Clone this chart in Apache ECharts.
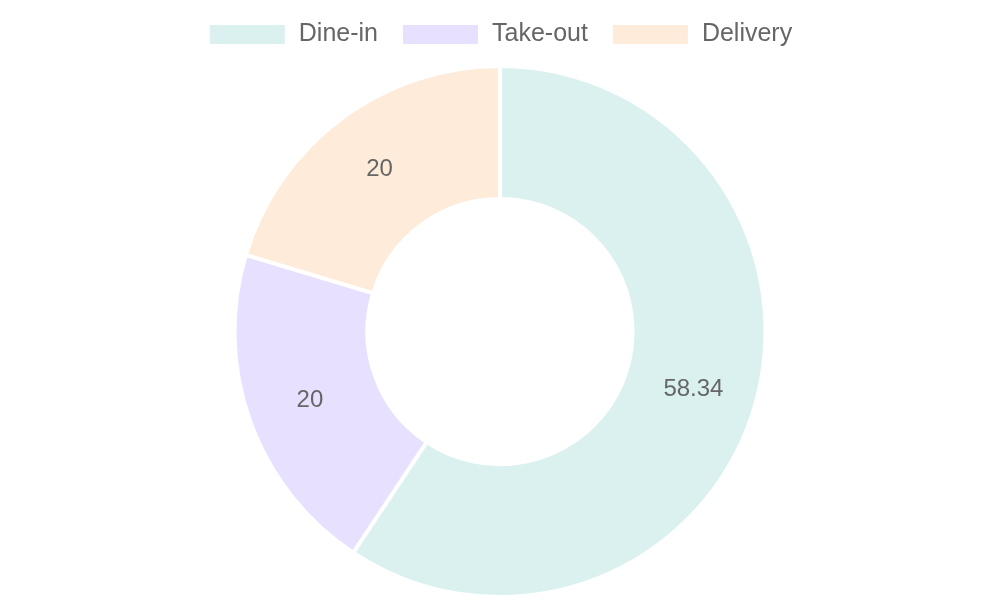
<!DOCTYPE html>
<html>
<head>
<meta charset="utf-8">
<script src="https://cdn.jsdelivr.net/npm/echarts@6/dist/echarts.min.js"></script>
<style>
  html, body { margin: 0; padding: 0; background: #fff; }
  #chart { width: 1000px; height: 600px; }
</style>
</head>
<body>
<div id="chart"></div>
<script>
const categories = ["Dine-in", "Take-out", "Delivery"];
const values = [58.34, 20, 20];
const colors = ["#daf1f0", "#e8e0ff", "#ffebd9"];

const myChart = echarts.init(document.getElementById("chart"));

const option = {
  color: colors,
  textStyle: { fontFamily: "Liberation Sans, Arial, sans-serif" },
  legend: {
    data: categories,
    top: 17,
    left: "center",
    icon: "rect",
    itemWidth: 77,
    itemHeight: 21,
    itemGap: 23,
    textStyle: { fontSize: 25, color: "#666", padding: [0, 0, 0, 8] },
  },
  series: [
    {
      type: "pie",
      center: ["50%", "55.25%"],
      radius: ["44.2%", "88.5%"],
      startAngle: 90,
      clockwise: true,
      itemStyle: { borderColor: "#fff", borderWidth: 4 },
      label: {
        show: true,
        position: "inside",
        fontSize: 24,
        color: "#666",
        padding: [5, 0, 0, 0],
        formatter: "{c}",
      },
      labelLine: { show: false },
      data: categories.map((name, i) => ({ name: name, value: values[i] })),
    },
  ],
};

myChart.setOption(option);
</script>
</body>
</html>
